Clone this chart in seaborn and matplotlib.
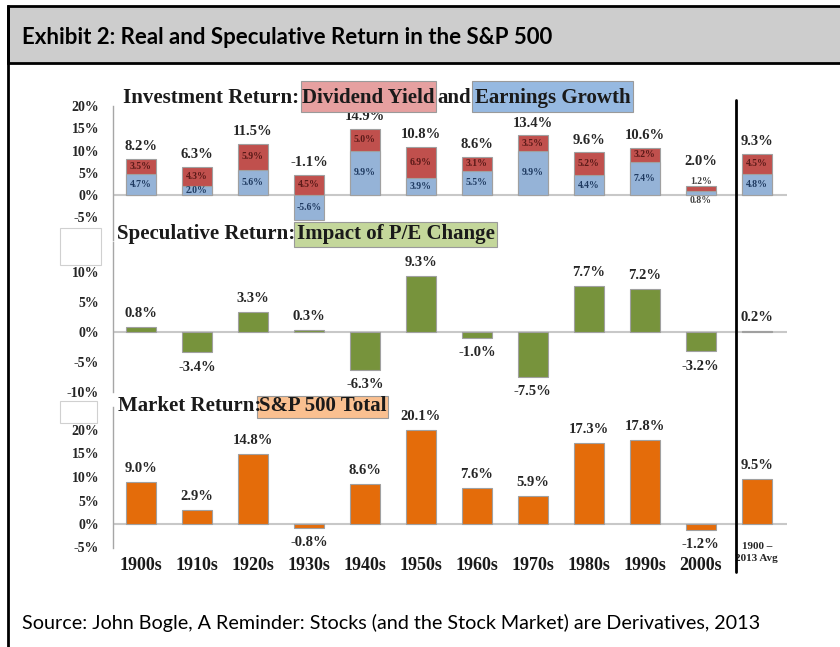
import matplotlib
matplotlib.use("Agg")
import matplotlib.pyplot as plt
import seaborn as sns
import pandas as pd
from matplotlib.patches import Rectangle
from matplotlib.lines import Line2D

# ---------------- data ----------------
decades = ["1900s", "1910s", "1920s", "1930s", "1940s", "1950s", "1960s",
           "1970s", "1980s", "1990s", "2000s", "1900 –\n2013 Avg"]
earnings_growth = [4.7, 2.0, 5.6, -5.6, 9.9, 3.9, 5.5, 9.9, 4.4, 7.4, 0.8, 4.8]
dividend_yield = [3.5, 4.3, 5.9, 4.5, 5.0, 6.9, 3.1, 3.5, 5.2, 3.2, 1.2, 4.5]
investment_total = [8.2, 6.3, 11.5, -1.1, 14.9, 10.8, 8.6, 13.4, 9.6, 10.6, 2.0, 9.3]
speculative = [0.8, -3.4, 3.3, 0.3, -6.3, 9.3, -1.0, -7.5, 7.7, 7.2, -3.2, 0.2]
market_total = [9.0, 2.9, 14.8, -0.8, 8.6, 20.1, 7.6, 5.9, 17.3, 17.8, -1.2, 9.5]

top_ticks = [-10, -5, 0, 5, 10, 15, 20]
mid_ticks = [-10, -5, 0, 5, 10, 15]
bot_ticks = [-5, 0, 5, 10, 15, 20, 25]
# tick labels hidden behind the white boxes in the source image
top_hidden = [-10]
mid_hidden = [15]
bot_hidden = [25]

# ---------------- style ----------------
sns.set_style("white")
plt.rcParams["font.family"] = ["Liberation Serif", "DejaVu Serif"]
plt.rcParams["font.weight"] = "bold"

C_BLUE = "#95b3d7"
C_RED = "#c0504d"
C_GREEN = "#77933c"
C_ORANGE = "#e46c0a"
C_EDGE = "#a0a0a0"
C_ZERO = "#c8c8c8"
C_AXIS = "#a6a6a6"

W, H = 840, 647
fig = plt.figure(figsize=(8.4, 6.47), dpi=100)
fig.patch.set_facecolor("white")


def fx(x):
    return x / W


def fy(y):
    return 1 - y / H


def make_axes(x0, x1, ytop, ybot):
    return fig.add_axes([fx(x0), fy(ybot), (x1 - x0) / W, (ybot - ytop) / H])


X0, X1 = 113, 787
ax_top = make_axes(X0, X1, 106, 239.5)
ax_mid = make_axes(X0, X1, 242, 392)
ax_bot = make_axes(X0, X1, 406.5, 547.5)

BAR_W = 0.535


def bars(ax, values, color):
    df = pd.DataFrame({"decade": decades, "value": values})
    sns.barplot(data=df, x="decade", y="value", order=decades, color=color,
                saturation=1, width=BAR_W, edgecolor=C_EDGE, linewidth=0.8,
                errorbar=None, ax=ax, zorder=2)


def style_axes(ax, ylim, ticks, hidden):
    ax.set_xlim(-0.5, 11.54)
    ax.set_ylim(*ylim)
    ax.set_yticks(ticks)
    ax.set_yticklabels(["" if t in hidden else f"{t}%" for t in ticks],
                       fontsize=10, fontweight="bold")
    ax.set_xlabel("")
    ax.set_ylabel("")
    for s in ["top", "right", "bottom"]:
        ax.spines[s].set_visible(False)
    ax.spines["left"].set_color(C_AXIS)
    ax.spines["left"].set_linewidth(1.0)
    ax.tick_params(axis="y", direction="out", length=4, width=1, color=C_AXIS,
                   pad=6)
    ax.tick_params(axis="x", length=0)
    ax.axhline(0, color=C_ZERO, lw=1.5, zorder=1)
    ax.set_facecolor("none")


# ---------------- top panel: stacked ----------------
red_top = [max(b, 0) + d for b, d in zip(earnings_growth, dividend_yield)]
bars(ax_top, red_top, C_RED)
bars(ax_top, earnings_growth, C_BLUE)
style_axes(ax_top, (-10, 20), top_ticks, top_hidden)
ax_top.set_xticklabels([])

for i, (b, d, t) in enumerate(zip(earnings_growth, dividend_yield, investment_total)):
    if abs(b) >= 1.5:
        ax_top.text(i, b / 2, f"{b:.1f}%", ha="center", va="center",
                    fontsize=7, color="#1f3a60", zorder=5)
    else:
        ax_top.annotate(f"{b:.1f}%", xy=(i, min(b, 0)), xytext=(0, -1),
                        textcoords="offset points", ha="center", va="top",
                        fontsize=7, color="#404040", zorder=5)
    base = max(b, 0)
    if d >= 1.5:
        ax_top.text(i, base + d / 2, f"{d:.1f}%", ha="center", va="center",
                    fontsize=7, color="#5a1a18", zorder=5)
        extra = 0
    else:
        ax_top.annotate(f"{d:.1f}%", xy=(i, base + d), xytext=(0, 0),
                        textcoords="offset points", ha="center", va="bottom",
                        fontsize=7, color="#404040", zorder=5)
        extra = 9
    ax_top.annotate(f"{t:.1f}%", xy=(i, base + d), xytext=(0, 4 + extra),
                    textcoords="offset points", ha="center", va="bottom",
                    fontsize=10.5, fontweight="bold", color="#262626", zorder=5)

# ---------------- middle panel ----------------
bars(ax_mid, speculative, C_GREEN)
style_axes(ax_mid, (-10, 15), mid_ticks, mid_hidden)
ax_mid.set_xticklabels([])
for i, v in enumerate(speculative):
    if v >= 0:
        ax_mid.annotate(f"{v:.1f}%", xy=(i, v), xytext=(0, 5),
                        textcoords="offset points", ha="center", va="bottom",
                        fontsize=10.5, color="#262626")
    else:
        ax_mid.annotate(f"{v:.1f}%", xy=(i, v), xytext=(0, -6),
                        textcoords="offset points", ha="center", va="top",
                        fontsize=10.5, color="#262626")

# ---------------- bottom panel ----------------
bars(ax_bot, market_total, C_ORANGE)
style_axes(ax_bot, (-5, 25), bot_ticks, bot_hidden)
for i, v in enumerate(market_total):
    if v >= 0:
        ax_bot.annotate(f"{v:.1f}%", xy=(i, v), xytext=(0, 5),
                        textcoords="offset points", ha="center", va="bottom",
                        fontsize=10.5, color="#262626")
    else:
        ax_bot.annotate(f"{v:.1f}%", xy=(i, v), xytext=(0, -6),
                        textcoords="offset points", ha="center", va="top",
                        fontsize=10.5, color="#262626")

ax_bot.set_xticks(range(len(decades)))
ax_bot.set_xticklabels(decades[:-1] + [""], fontsize=13, fontweight="bold",
                       color="#1a1a1a")
ax_bot.tick_params(axis="x", pad=7)
ax_bot.text(len(decades) - 1, -3.9, decades[-1], ha="center", va="top",
            fontsize=8, fontweight="bold", color="#262626", linespacing=1.45)

# ---------------- panel titles with boxes ----------------
def box(x0, y0, x1, y1, fc):
    fig.add_artist(Rectangle((fx(x0), fy(y1)), (x1 - x0) / W, (y1 - y0) / H,
                             transform=fig.transFigure, facecolor=fc,
                             edgecolor="#9a9a9a", lw=0.8, zorder=3))


TS = 15
fig.text(fx(123), fy(98), "Investment Return:", ha="left", va="center",
         fontsize=TS, fontweight="bold", color="#1a1a1a", zorder=4)
box(301, 81, 436, 112, "#e6a0a0")
fig.text(fx(368.5), fy(98), "Dividend Yield", ha="center", va="center",
         fontsize=TS, fontweight="bold", color="#1a1a1a", zorder=4)
fig.text(fx(437), fy(98), "and", ha="left", va="center",
         fontsize=TS, fontweight="bold", color="#1a1a1a", zorder=4)
box(472, 81, 633, 112, "#96b9e1")
fig.text(fx(552.5), fy(98), "Earnings Growth", ha="center", va="center",
         fontsize=TS, fontweight="bold", color="#1a1a1a", zorder=4)

fig.text(fx(117), fy(234), "Speculative Return:", ha="left", va="center",
         fontsize=TS, fontweight="bold", color="#1a1a1a", zorder=4)
box(294, 222, 497, 247, "#c4d79b")
fig.text(fx(395.5), fy(234), "Impact of P/E Change", ha="center", va="center",
         fontsize=TS, fontweight="bold", color="#1a1a1a", zorder=4)

fig.text(fx(118), fy(406), "Market Return:", ha="left", va="center",
         fontsize=TS, fontweight="bold", color="#1a1a1a", zorder=4)
box(257, 396, 388, 418, "#fac090")
fig.text(fx(322.5), fy(406), "S&P 500 Total", ha="center", va="center",
         fontsize=TS, fontweight="bold", color="#1a1a1a", zorder=4)

# white label-covering boxes (as in the source image)
for (x0, y0, x1, y1) in [(60, 228, 101, 265), (60, 401, 97, 423)]:
    fig.add_artist(Rectangle((fx(x0), fy(y1)), (x1 - x0) / W, (y1 - y0) / H,
                             transform=fig.transFigure, facecolor="white",
                             edgecolor="#d0d0d0", lw=0.8, zorder=6))

# vertical separator
fig.add_artist(Line2D([fx(736), fx(736)], [fy(100), fy(572)],
                      transform=fig.transFigure, color="black", lw=2, zorder=7))

# ---------------- frame, header, source ----------------
fig.add_artist(Rectangle((fx(8), fy(63)), (W - 8) / W + 0.01, (63 - 6) / H,
                         transform=fig.transFigure, facecolor="#cdcdcd",
                         edgecolor="black", lw=2, zorder=1))
fig.add_artist(Line2D([fx(8), fx(8)], [fy(6), fy(650)],
                      transform=fig.transFigure, color="black", lw=2, zorder=8))
fig.text(fx(22), fy(37), "Exhibit 2: Real and Speculative Return in the S&P 500",
         ha="left", va="center", fontsize=16, fontweight="bold",
         family=["Lato", "DejaVu Sans"], color="black", zorder=9)
fig.text(fx(22), fy(623),
         "Source: John Bogle, A Reminder: Stocks (and the Stock Market) are Derivatives, 2013",
         ha="left", va="center", fontsize=14.2, fontweight="normal",
         family=["Lato", "DejaVu Sans"], color="black", zorder=9)

fig.savefig("out.png", dpi=100)
